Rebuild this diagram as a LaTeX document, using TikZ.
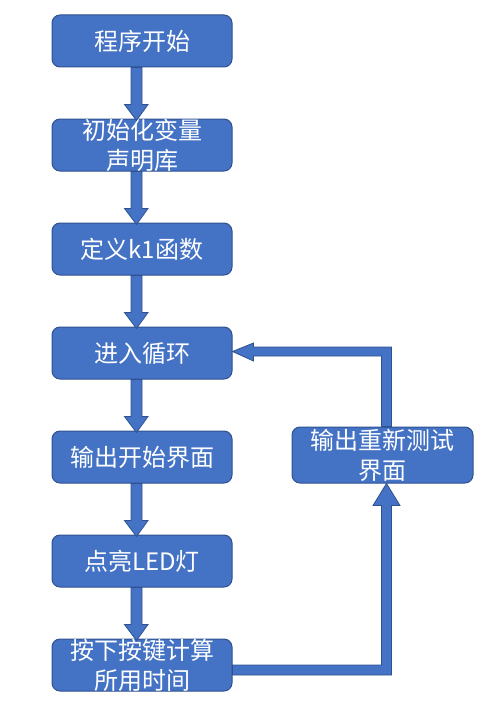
\documentclass[tikz,border=0pt]{standalone}
\usepackage{fontspec}
\newfontfamily\cjk{Noto Sans CJK SC}
\usetikzlibrary{calc}
\definecolor{boxblue}{HTML}{4472C4}
\definecolor{edgeblue}{HTML}{2F528F}
\tikzset{
  flow/.style={draw=edgeblue, line width=1pt, fill=boxblue, rounded corners=8pt, inner sep=0pt, text=white},
  barrow/.style={draw=edgeblue, line width=0.8pt, fill=boxblue, line join=miter},
}
\newcommand{\boxtext}[3]{\parbox[c][#2][c]{#1}{\centering\cjk\fontsize{24}{30}\selectfont #3}}
\newcommand{\downarr}[2]{%
  \draw[barrow] ($(#1.south)+(-11,0)$) -- ($(#2.north)+(-11,-14)$) -- ($(#2.north)+(-17.5,-14)$)
    -- ($(#2.north)+(-5.5,2)$) -- ($(#2.north)+(6,-14)$) -- ($(#2.north)+(0,-14)$)
    -- ($(#1.south)+(0,0)$) -- cycle;}
\begin{document}
\begin{tikzpicture}[x=1pt,y=-1pt]
\useasboundingbox (0,0) rectangle (482,717);
\node[flow] (b1) at (142,41)  {\boxtext{180pt}{52pt}{程序开始}};
\node[flow] (b2) at (142,145) {\boxtext{180pt}{52pt}{初始化变量\\声明库}};
\node[flow] (b3) at (142,249) {\boxtext{180pt}{52pt}{定义k1函数}};
\node[flow] (b4) at (142,353) {\boxtext{180pt}{52pt}{进入循环}};
\node[flow] (b5) at (142,457) {\boxtext{180pt}{52pt}{输出开始界面}};
\node[flow] (b6) at (142,561) {\boxtext{180pt}{52pt}{点亮LED灯}};
\node[flow] (b7) at (142,665) {\boxtext{180pt}{52pt}{按下按键计算\\所用时间}};
\node[flow] (rb) at (382.5,455) {\boxtext{181pt}{56pt}{输出重新测试\\界面}};
\downarr{b1}{b2}
\downarr{b2}{b3}
\downarr{b3}{b4}
\downarr{b4}{b5}
\downarr{b5}{b6}
\downarr{b6}{b7}
% loop: b7 -> rb
\coordinate (li) at ($(rb.south)+(-1,0)$);
\coordinate (lo) at ($(rb.south)+(9,0)$);
\coordinate (lb) at ($(b7.east)+(0,10)$);
\draw[barrow] (b7.east) -- (b7.east -| li) -- ($(li)+(0,22)$) -- ($(rb.south)+(-9.5,22)$)
  -- ($(rb.south)+(4,0)$) -- ($(rb.south)+(17.5,22)$) -- ($(lo)+(0,22)$)
  -- (lb -| lo) -- (lb) -- cycle;
% rb -> b4
\coordinate (ti) at ($(rb.north)+(-1,0)$);
\coordinate (to) at ($(rb.north)+(9,0)$);
\coordinate (hi) at ($(b4.east)+(0,3)$);
\coordinate (ho) at ($(b4.east)+(0,-6)$);
\draw[barrow] (ti) -- (hi -| ti) -- ($(hi)+(21,0)$) -- ($(b4.east)+(21,8)$)
  -- ($(b4.east)+(0,-1.5)$) -- ($(b4.east)+(21,-10)$) -- ($(ho)+(21,0)$)
  -- (ho -| to) -- (to) -- cycle;
\end{tikzpicture}
\end{document}
